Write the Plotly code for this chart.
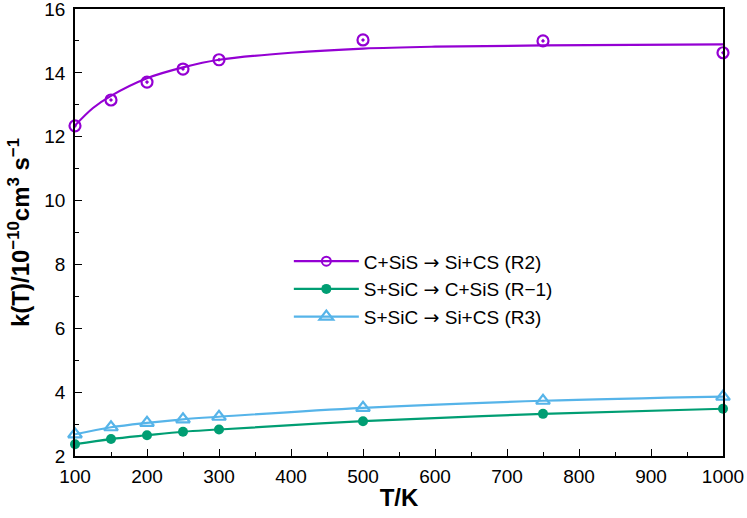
import plotly.graph_objects as go

# temperatures of the computed points (K)
temp = [100, 150, 200, 250, 300, 500, 750, 1000]

# rate coefficients, 10^-10 cm^3 s^-1
k_r2 = [12.34, 13.15, 13.71, 14.12, 14.41, 15.03, 15.00, 14.63]
k_rm1 = [2.37, 2.53, 2.65, 2.76, 2.83, 3.09, 3.32, 3.48]
k_r3 = [2.68, 2.90, 3.04, 3.15, 3.23, 3.51, 3.73, 3.86]

# fitted curve for R2
fit_temp = [100, 125, 150, 200, 250, 300, 400, 500, 600, 750, 1000]
fit_r2 = [12.35, 12.90, 13.28, 13.83, 14.17, 14.41, 14.63, 14.76, 14.82, 14.86, 14.89]

ARROW = "<span style='font-family:DejaVu Sans'>\u2192</span>"
names = [f"C+SiS {ARROW} Si+CS (R2)", f"S+SiC {ARROW} C+SiS (R\u22121)", f"S+SiC {ARROW} Si+CS (R3)"]
PURPLE = "#9400D3"
GREEN = "#009E73"
BLUE = "#56B4E9"

fig = go.Figure()

# R2: fit line + open circles, legend entry from a dummy trace
fig.add_trace(go.Scatter(
    x=fit_temp, y=fit_r2, mode="lines", line=dict(color=PURPLE, width=2.2, shape="spline"),
    showlegend=False, cliponaxis=False
))
fig.add_trace(go.Scatter(
    x=temp, y=k_r2, mode="markers",
    marker=dict(symbol="circle-open-dot", size=11, color=PURPLE, line=dict(width=2.2)),
    showlegend=False, cliponaxis=False
))
fig.add_trace(go.Scatter(
    x=[None], y=[None], mode="lines+markers", name=names[0],
    line=dict(color=PURPLE, width=2.2),
    marker=dict(symbol="circle-open", size=9, color=PURPLE, line=dict(width=2))
))
fig.add_trace(go.Scatter(
    x=temp, y=k_rm1, mode="lines+markers", name=names[1],
    line=dict(color=GREEN, width=2.2, shape="spline"),
    marker=dict(symbol="circle", size=10, color=GREEN),
    cliponaxis=False
))
fig.add_trace(go.Scatter(
    x=temp, y=k_r3, mode="lines+markers", name=names[2],
    line=dict(color=BLUE, width=2.2, shape="spline"),
    marker=dict(symbol="triangle-up-open", size=12, color=BLUE, line=dict(width=2.2)),
    cliponaxis=False
))

axis_common = dict(
    showline=True, linecolor="black", linewidth=1.5, mirror=True,
    ticks="inside", tickcolor="black", tickwidth=1, ticklen=7,
    showgrid=False, zeroline=False, automargin=False, ticklabeloverflow="allow",
    tickfont=dict(family="Liberation Sans, Arial, sans-serif", size=19, color="black"),
)

fig.update_xaxes(
    range=[100, 1000], dtick=100, tick0=100, ticklabelstandoff=2,
    minor=dict(ticks="inside", dtick=50, ticklen=4, tickcolor="black"),
    title=dict(text="<b>T/K</b>", font=dict(size=24, color="black"), standoff=4),
    **axis_common
)
fig.update_yaxes(
    range=[2, 16], dtick=2, tick0=2, ticklabelstandoff=4,
    minor=dict(ticks="inside", dtick=1, ticklen=4, tickcolor="black"),
    title=dict(text="<b>k(T)/10<sup>\u221210</sup>cm<sup>3</sup> s<sup>\u22121</sup></b>",
               font=dict(size=24, color="black"), standoff=8),
    **axis_common
)

fig.update_layout(
    width=747, height=518,
    paper_bgcolor="white", plot_bgcolor="white",
    font=dict(family="Liberation Sans, Arial, sans-serif", color="black"),
    margin=dict(l=75, r=24, t=9, b=62),
    legend=dict(
        x=0.33, y=0.478, xanchor="left", yanchor="top",
        font=dict(size=19), bgcolor="rgba(255,255,255,0)",
        tracegroupgap=0, itemwidth=65
    ),
)

fig.write_html("out.html", config={"displayModeBar": False},
               post_script="document.body.style.margin='0';")
